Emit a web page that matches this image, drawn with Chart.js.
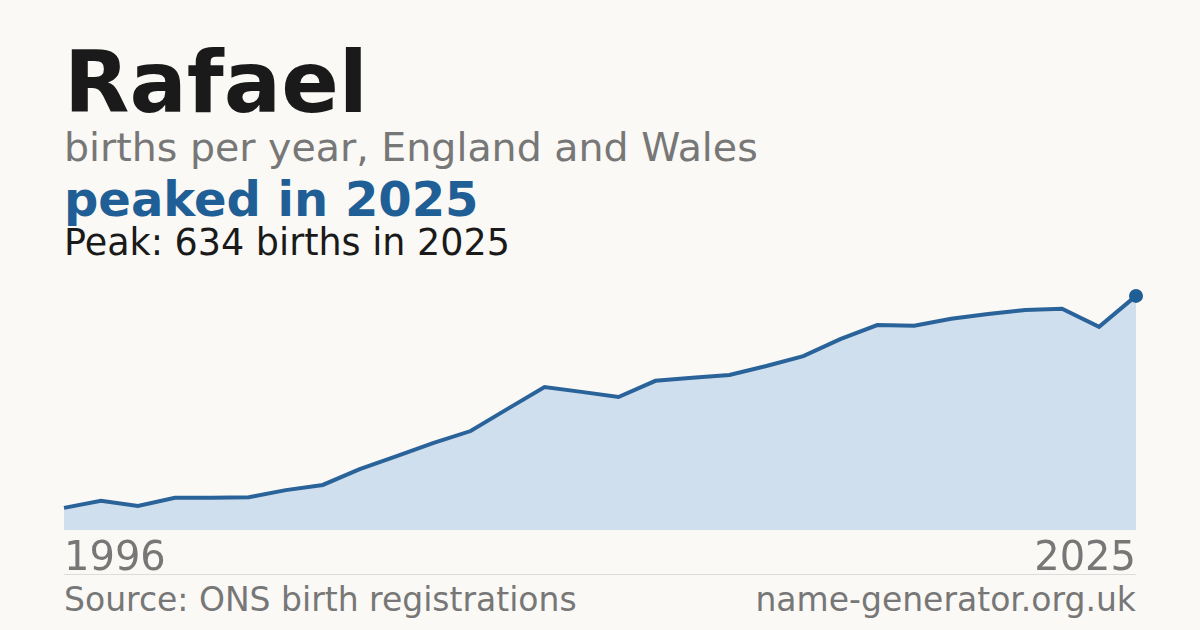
<!DOCTYPE html><html><head><meta charset="utf-8">
<script src="https://cdn.jsdelivr.net/npm/chart.js@4"></script>
<style>
body{margin:0;width:1200px;height:630px;background:#faf9f5;font-family:"DejaVu Sans",sans-serif;position:relative;overflow:hidden}
.t{position:absolute;left:64px;white-space:nowrap}
#c{position:absolute;left:57px;top:273px;width:1086px;height:264px}
</style></head><body>
<div class="t" style="top:33px;font-size:85px;font-weight:bold;color:#1a1a1a">Rafael</div>
<div class="t" style="top:124px;font-size:39.5px;color:#777">births per year, England and Wales</div>
<div class="t" style="top:171px;font-size:48px;font-weight:bold;color:#1f5f96">peaked in 2025</div>
<div class="t" style="top:221px;font-size:36.5px;color:#1a1a1a">Peak: 634 births in 2025</div>
<div id="c"><canvas id="cv"></canvas></div>
<div class="t" style="top:533px;font-size:40px;color:#777">1996</div>
<div style="position:absolute;right:64px;top:533px;font-size:40px;color:#777">2025</div>
<div style="position:absolute;left:64px;width:1072px;top:574px;border-top:1px solid #ddd"></div>
<div class="t" style="top:580px;font-size:33px;color:#777">Source: ONS birth registrations</div>
<div style="position:absolute;right:64px;top:580px;font-size:33px;color:#777">name-generator.org.uk</div>
<script>
const years=[];for(let y=1996;y<=2025;y++)years.push(String(y));
const births=[60,79,65,87,87,89,108,122,165,200,236,268,328,387,374,360,404,412,420,444,471,517,555,553,572,585,596,599,550,634];
const last=births.length-1;
new Chart(document.getElementById('cv'),{type:'line',
data:{labels:years,datasets:[{data:births,borderColor:'#2a6399',borderWidth:4,fill:true,backgroundColor:'#cfdfee',tension:0,
pointRadius:births.map((v,i)=>i===last?7:0),pointBackgroundColor:'#1f5f96',pointBorderWidth:0,clip:false}]},
options:{responsive:true,maintainAspectRatio:false,animation:false,layout:{padding:0},
plugins:{legend:{display:false},tooltip:{enabled:false}},
scales:{x:{display:false,offset:false},y:{display:false,min:0,max:677}}}});
</script></body></html>
